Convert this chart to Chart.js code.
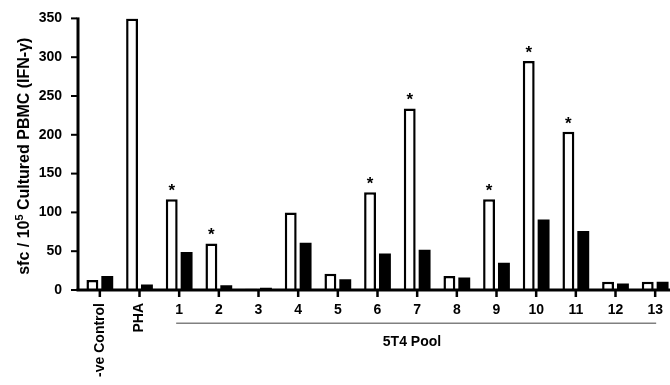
<!DOCTYPE html>
<html>
<head>
<meta charset="utf-8">
<script src="https://cdn.jsdelivr.net/npm/chart.js@4/dist/chart.umd.min.js"></script>
<style>
html,body{margin:0;padding:0;background:#fff;overflow:hidden;width:670px;height:385px;}
#wrap{position:relative;width:678px;height:385px;}
</style>
</head>
<body>
<div id="wrap"><canvas id="c"></canvas></div>
<script>
const categories = ['-ve Control','PHA','1','2','3','4','5','6','7','8','9','10','11','12','13'];
const openValues = [13, 350, 117, 60, 1.5, 100, 21, 126, 234, 18, 117, 295, 204, 10.5, 10.5];
const filledValues = [18, 7, 49, 6, 3, 61, 14, 47, 52, 16, 35, 91, 76, 8.5, 10.5];
const significant = [false,false,true,true,false,false,false,true,true,false,true,true,true,false,false];
const yTicks = [0, 50, 100, 150, 200, 250, 300, 350];
const groupLabel = '5T4 Pool';
const yTitleParts = ['sfc / 10', '5', ' Cultured PBMC (IFN-\u03B3)'];

const FONT = '"Liberation Sans", Arial, sans-serif';
const AXIS = '#000';

const overlay = {
  id: 'overlay',
  afterDraw(chart) {
    const ctx = chart.ctx;
    const x = chart.scales.x, y = chart.scales.y;
    const top = y.getPixelForValue(350), base = y.getPixelForValue(0);
    const ax = chart.chartArea.left - 2;
    ctx.save();
    ctx.fillStyle = AXIS;
    ctx.fillRect(ax - 1.5, top - 1, 3, base - top + 2);
    ctx.fillRect(ax - 1.5, base - 1.5, chart.width - ax, 3);
    yTicks.forEach(v => {
      const py = y.getPixelForValue(v);
      ctx.fillRect(ax - 7, py - 1, 6, 2);
    });
    categories.forEach((c, i) => {
      const px = x.getPixelForTick(i);
      ctx.fillRect(px - 1.25, base, 2.5, 7);
    });

    ctx.fillStyle = '#000';
    ctx.font = 'bold 14px ' + FONT;
    for (let i = 0; i < 2; i++) {
      const px = x.getPixelForTick(i);
      ctx.save();
      ctx.translate(px, base + 13);
      ctx.rotate(-Math.PI / 2);
      ctx.textAlign = 'right';
      ctx.textBaseline = 'middle';
      ctx.fillText(categories[i], 0, 0);
      ctx.restore();
    }
    const meta = chart.getDatasetMeta(0);
    ctx.font = 'bold 17px ' + FONT;
    ctx.textAlign = 'center';
    ctx.textBaseline = 'alphabetic';
    meta.data.forEach((el, i) => {
      if (significant[i]) ctx.fillText('*', el.x, el.y - 3);
    });
    const x1 = x.getPixelForTick(2) - 3;
    const x2 = x.getPixelForTick(14) + 1;
    ctx.fillStyle = '#808080';
    ctx.fillRect(x1, 322.5, x2 - x1, 1.5);
    ctx.fillStyle = '#000';
    ctx.font = 'bold 14px ' + FONT;
    ctx.textAlign = 'center';
    ctx.textBaseline = 'middle';
    ctx.fillText(groupLabel, 412, 342);
    ctx.save();
    ctx.translate(25, (top + base) / 2 + 2);
    ctx.rotate(-Math.PI / 2);
    ctx.textBaseline = 'middle';
    ctx.textAlign = 'left';
    const big = 'bold 16px ' + FONT, small = 'bold 11px ' + FONT;
    ctx.font = big; const w0 = ctx.measureText(yTitleParts[0]).width;
    const w2 = ctx.measureText(yTitleParts[2]).width;
    ctx.font = small; const w1 = ctx.measureText(yTitleParts[1]).width;
    let sx = -(w0 + w1 + w2) / 2;
    ctx.font = big; ctx.fillText(yTitleParts[0], sx, 0); sx += w0;
    ctx.font = small; ctx.fillText(yTitleParts[1], sx, -5); sx += w1;
    ctx.font = big; ctx.fillText(yTitleParts[2], sx, 0);
    ctx.restore();
    ctx.restore();
  }
};

new Chart(document.getElementById('c'), {
  type: 'bar',
  data: {
    labels: categories,
    datasets: [
      { data: openValues, backgroundColor: '#fff', borderColor: '#000', borderWidth: 2.5, borderSkipped: 'start', categoryPercentage: 0.75, barPercentage: 0.8 },
      { data: filledValues, backgroundColor: '#000', borderColor: '#000', borderWidth: 0, categoryPercentage: 0.75, barPercentage: 0.8 }
    ]
  },
  options: {
    responsive: true,
    maintainAspectRatio: false,
    animation: false,
    devicePixelRatio: 1,
    layout: { padding: { top: 15, right: 3, left: 0, bottom: 0 } },
    plugins: { legend: { display: false }, tooltip: { enabled: false }, title: { display: false } },
    scales: {
      x: {
        offset: true,
        border: { display: false },
        grid: { display: false },
        ticks: {
          color: '#000', padding: 4, maxRotation: 0, autoSkip: false,
          font: { family: FONT, size: 14, weight: 'bold' },
          callback: (v, i) => i < 2 ? '' : categories[i]
        },
        afterFit: s => { s.height = 95; }
      },
      y: {
        min: 0, max: 350,
        border: { display: false },
        afterBuildTicks: s => { s.ticks = yTicks.map(v => ({ value: v })); },
        grid: { display: false },
        ticks: { color: '#000', padding: 10, font: { family: FONT, size: 14, weight: 'bold' } },
        afterFit: s => { s.width = 80; }
      }
    }
  },
  plugins: [overlay]
});
</script>
</body>
</html>
